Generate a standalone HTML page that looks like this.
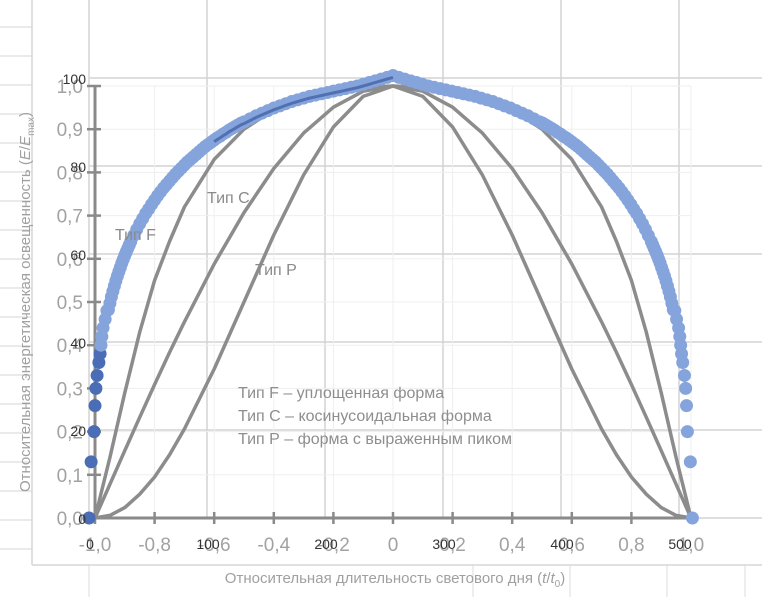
<!DOCTYPE html>
<html><head><meta charset="utf-8"><style>
html,body{margin:0;padding:0;background:#fff;}
svg{display:block;font-family:"Liberation Sans","DejaVu Sans",sans-serif;}
</style></head><body>
<svg id="c" width="762" height="597" viewBox="0 0 762 597" xmlns="http://www.w3.org/2000/svg"></svg>
<script>
const xTicks=[-1.0,-0.8,-0.6,-0.4,-0.2,0,0.2,0.4,0.6,0.8,1.0];
const xTickLabels=["-1,0","-0,8","-0,6","-0,4","-0,2","0","0,2","0,4","0,6","0,8","1,0"];
const yTicks=[0,0.1,0.2,0.3,0.4,0.5,0.6,0.7,0.8,0.9,1.0];
const yTickLabels=["0,0","0,1","0,2","0,3","0,4","0,5","0,6","0,7","0,8","0,9","1,0"];
const x2Ticks=[0,100,200,300,400,500];
const y2Ticks=[0,20,40,60,80,100];
const curveX=[-1,-0.95,-0.9,-0.85,-0.8,-0.75,-0.7,-0.6,-0.5,-0.4,-0.3,-0.2,-0.1,0,0.1,0.2,0.3,0.4,0.5,0.6,0.7,0.75,0.8,0.85,0.9,0.95,1];
const grayF=[0,0.14,0.29,0.43,0.55,0.64,0.72,0.83,0.90,0.945,0.972,0.988,0.997,1,0.997,0.988,0.972,0.945,0.90,0.83,0.72,0.64,0.55,0.43,0.29,0.14,0];
const typeC=[0,0.078,0.156,0.233,0.309,0.383,0.454,0.588,0.707,0.809,0.891,0.951,0.988,1,0.988,0.951,0.891,0.809,0.707,0.588,0.454,0.383,0.309,0.233,0.156,0.078,0];
const typeP=[0,0.006,0.024,0.055,0.095,0.146,0.206,0.345,0.5,0.655,0.794,0.905,0.976,1,0.976,0.905,0.794,0.655,0.5,0.345,0.206,0.146,0.095,0.055,0.024,0.006,0];
const dotsX=[-1.02,-1.013,-1.003,-1.0,-0.997,-0.993,-0.987,-0.983,-0.98,-0.977,-0.973,-0.966,-0.96,-0.955,-0.95,-0.945,-0.94,-0.935,-0.93,-0.925,-0.92,-0.915,-0.91,-0.905,-0.9,-0.895,-0.89,-0.885,-0.88,-0.87,-0.86,-0.85,-0.84,-0.83,-0.82,-0.81,-0.8,-0.79,-0.78,-0.77,-0.76,-0.75,-0.74,-0.73,-0.72,-0.71,-0.7,-0.69,-0.68,-0.67,-0.66,-0.65,-0.64,-0.63,-0.62,-0.61,-0.6,-0.59,-0.58,-0.57,-0.56,-0.55,-0.54,-0.53,-0.52,-0.51,-0.5,-0.48,-0.46,-0.44,-0.42,-0.4,-0.38,-0.36,-0.34,-0.32,-0.3,-0.28,-0.26,-0.24,-0.22,-0.2,-0.18,-0.16,-0.14,-0.12,-0.1,-0.08,-0.06,-0.04,-0.02,0];
const dotsY=[0,0.13,0.2,0.26,0.3,0.33,0.36,0.38,0.4,0.42,0.44,0.46,0.48,0.482,0.497,0.512,0.525,0.537,0.549,0.56,0.57,0.58,0.59,0.599,0.608,0.616,0.624,0.632,0.64,0.654,0.668,0.681,0.693,0.705,0.715,0.726,0.736,0.746,0.755,0.764,0.772,0.78,0.788,0.796,0.803,0.81,0.817,0.824,0.83,0.836,0.842,0.848,0.854,0.86,0.865,0.87,0.875,0.88,0.884,0.889,0.893,0.898,0.902,0.906,0.91,0.914,0.917,0.924,0.931,0.937,0.943,0.949,0.954,0.959,0.964,0.968,0.972,0.976,0.979,0.982,0.985,0.988,0.991,0.994,0.997,1.0,1.004,1.008,1.012,1.016,1.02,1.024];

const NS="http://www.w3.org/2000/svg";
const svg=document.getElementById('c');
const X=v=>393+v*298, Y=v=>518-v*432;
const X2=v=>89+v*1.18, Y2=v=>518-v*4.4;
function el(t,a,p){const e=document.createElementNS(NS,t);for(const k in a)e.setAttribute(k,a[k]);(p||svg).appendChild(e);return e;}
function txt(s,a){const e=el('text',a);e.textContent=s;return e;}

const sheet=el('g',{});


el('line',{x1:32,y1:0,x2:32,y2:565,stroke:'#d6d6d6','stroke-width':1.5},sheet);
for(let y=27;y<565;y+=29) el('line',{x1:0,y1:y,x2:32,y2:y,stroke:'#d6d6d6','stroke-width':1},sheet);
el('line',{x1:32,y1:565,x2:762,y2:565,stroke:'#d6d6d6','stroke-width':1.5},sheet);
[89,473,570,667,745].forEach(x=>el('line',{x1:x,y1:565,x2:x,y2:597,stroke:'#dcdcdc','stroke-width':1},sheet));
const g2=el('g',{});


y2Ticks.forEach(v=>el('line',{x1:89,y1:Y2(v),x2:762,y2:Y2(v),stroke:'#d4d4d4','stroke-width':1.5},g2));
x2Ticks.forEach(v=>el('line',{x1:X2(v),y1:0,x2:X2(v),y2:518,stroke:'#d4d4d4','stroke-width':1.5},g2));
const g1=el('g',{});


xTicks.forEach(v=>el('line',{x1:X(v),y1:Y(1),x2:X(v),y2:Y(0),stroke:'#efefef','stroke-width':1},g1));
yTicks.forEach(v=>el('line',{x1:X(-1),y1:Y(v),x2:X(1),y2:Y(v),stroke:'#efefef','stroke-width':1},g1));

const ax=el('g',{stroke:'#8a8a8a','stroke-width':3});


el('line',{x1:X(-1),y1:Y(1),x2:X(-1),y2:Y(0)},ax);
el('line',{x1:X(-1),y1:Y(0),x2:X(1),y2:Y(0)},ax);
yTicks.forEach(v=>el('line',{x1:X(-1)-8,y1:Y(v),x2:X(-1)+6,y2:Y(v),'stroke-width':2.5},ax));
xTicks.forEach(v=>el('line',{x1:X(v),y1:Y(0)-6,x2:X(v),y2:Y(0)+6,'stroke-width':2.5},ax));

function path(xs,ys){return xs.map((x,i)=>(i?'L':'M')+X(x).toFixed(1)+','+Y(ys[i]).toFixed(1)).join(' ');}
[[grayF,'curve-type-f-gray'],[typeC,'curve-type-c'],[typeP,'curve-type-p']].forEach(([ys,n])=>{
  const p=el('path',{d:path(curveX,ys),fill:'none',stroke:'#8c8c8c','stroke-width':3.5,'stroke-linejoin':'round'});
  
  
});
const dg=el('g',{});


dotsX.forEach((x,i)=>{
  [x,-x*0.985].forEach(xx=>{
    const c=el('circle',{cx:X(xx),cy:Y(dotsY[i]),r:6.5,fill:(dotsY[i]<0.4&&xx<0)?'#4a6db5':'#86a4dc'},dg);
    
    
  });
});
const hx=[],hy=[];
dotsX.forEach((x,i)=>{if(x>=-0.6){hx.push(x);hy.push(dotsY[i]-0.004);}});
const hl=el('path',{d:path(hx,hy),fill:'none',stroke:'#2f4f95','stroke-width':3,opacity:0.6});



yTicks.forEach((v,i)=>{const t=txt(yTickLabels[i],{x:X(-1)-12,y:Y(v)+7,'font-size':19,fill:'#a2a2a2','text-anchor':'end'});});
xTicks.forEach((v,i)=>{const t=txt(xTickLabels[i],{x:X(v),y:551,'font-size':19,fill:'#a2a2a2','text-anchor':'middle'});});
y2Ticks.forEach(v=>{const t=txt(String(v),{x:86,y:Y2(v)+6,'font-size':14,fill:'#333','text-anchor':'end'});});
x2Ticks.forEach(v=>{const t=txt(String(v),{x:X2(v)+1,y:549,'font-size':14,fill:'#333','text-anchor':'middle'});});

[['Тип F',115,240],['Тип С',207,203],['Тип Р',255,275]].forEach(([s,x,y])=>{const t=txt(s,{x:x,y:y,'font-size':16,fill:'#8a8a8a'});});
['Тип F – уплощенная форма','Тип С – косинусоидальная форма','Тип Р – форма с выраженным пиком'].forEach((s,i)=>{const t=txt(s,{x:238,y:398+i*23,'font-size':16,fill:'#8e8e8e'});});

const yt=el('text',{x:0,y:0,'font-size':15,fill:'#a0a0a0','text-anchor':'middle',transform:'translate(30,302) rotate(-90)'});


yt.innerHTML='Относительная  энергетическая освещенность  (<tspan font-style="italic">E</tspan>/<tspan font-style="italic">E</tspan><tspan font-size="10" dy="4">max</tspan><tspan dy="-4">)</tspan>';
const xt=el('text',{x:395,y:583,'font-size':15,fill:'#a0a0a0','text-anchor':'middle'});


xt.innerHTML='Относительная длительность светового дня (<tspan font-style="italic">t</tspan>/<tspan font-style="italic">t</tspan><tspan font-size="10" dy="4">0</tspan><tspan dy="-4">)</tspan>';
</script>
</body></html>
